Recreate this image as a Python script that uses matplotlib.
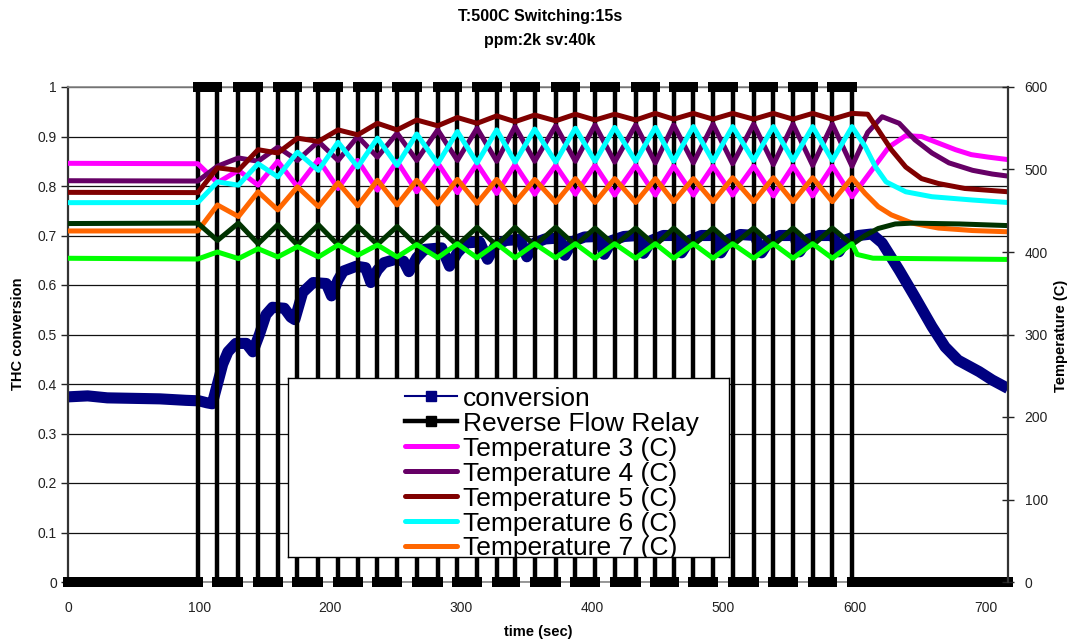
import matplotlib
matplotlib.use("Agg")
import matplotlib.pyplot as plt

plt.rcParams['font.family'] = ['Liberation Sans', 'DejaVu Sans']

W, H = 1070, 644

# ---------------- data ----------------
t_end = 717

# Reverse-flow relay: rising edges (s); relay stays on for 15 s each time
relay_rise = [99, 130, 160, 191, 221, 251, 282, 312, 341, 372, 402, 433,
              462, 492, 523, 553, 583]
relay_on_sec = 15

# THC conversion
conv_t = [0, 15, 30, 50, 70, 90, 100, 106, 110, 114, 118, 122, 128, 136, 141,
          146, 151, 156, 165, 170, 173, 179, 187, 197, 201, 206, 210, 220, 227,
          231, 236, 241, 250, 256, 260, 266, 272, 285, 291, 297, 304, 314, 320,
          326, 334, 345, 350, 356, 364, 375, 379, 385, 394, 405, 409, 415, 424,
          435, 439, 445, 454, 464, 468, 474, 483, 494, 498, 504, 513, 524, 529,
          535, 543, 554, 558, 564, 573, 584, 588, 594, 603, 613, 621, 634, 646,
          659, 669, 679, 695, 705, 717]
conv = [0.374, 0.376, 0.372, 0.371, 0.370, 0.367, 0.366, 0.362, 0.360, 0.400,
        0.440, 0.465, 0.482, 0.482, 0.465, 0.500, 0.540, 0.555, 0.553, 0.535,
        0.530, 0.585, 0.605, 0.603, 0.578, 0.610, 0.628, 0.638, 0.635, 0.605,
        0.630, 0.645, 0.652, 0.648, 0.627, 0.655, 0.672, 0.675, 0.638, 0.665,
        0.685, 0.687, 0.652, 0.680, 0.690, 0.692, 0.657, 0.685, 0.693, 0.695,
        0.660, 0.688, 0.697, 0.698, 0.662, 0.690, 0.698, 0.700, 0.664, 0.690,
        0.700, 0.700, 0.665, 0.690, 0.700, 0.700, 0.665, 0.692, 0.702, 0.700,
        0.665, 0.690, 0.700, 0.700, 0.667, 0.692, 0.700, 0.700, 0.667, 0.692,
        0.700, 0.703, 0.685, 0.630, 0.576, 0.516, 0.475, 0.448, 0.425, 0.408,
        0.391]

# Temperatures (C): value before switching, values at every switching instant,
# then the relaxation after switching stops
t_switch = [99, 114, 130, 145, 160, 175, 191, 206, 221, 236, 251, 266, 282,
            297, 312, 327, 341, 356, 372, 387, 402, 417, 433, 448, 462, 477,
            492, 507, 523, 538, 553, 568, 583, 598]

temp3_start = 507.5
temp3_switch = [507, 484, 499, 481, 510, 479, 512, 477, 511, 475, 510, 473,
                508, 472, 507, 471, 506, 470, 505, 470, 505, 469, 505, 469,
                504, 469, 504, 469, 504, 468, 504, 468, 504, 467]
temp3_tail_t = [613, 626, 639, 651, 664, 677, 689, 702, 717]
temp3_tail = [499, 527, 541, 540, 532, 524, 518, 515, 512]

temp4_start = 486.4
temp4_switch = [486, 504, 514, 510, 527, 511, 534, 511, 540, 515, 544, 511,
                548, 511, 550, 510, 552, 510, 553, 510, 554, 509, 554, 508,
                554, 508, 555, 507, 555, 506, 555, 505, 555, 504]
temp4_tail_t = [610, 621, 634, 646, 659, 672, 690, 705, 717]
temp4_tail = [545, 564, 556, 536, 520, 508, 499, 494.5, 492]

temp5_start = 472.3
temp5_switch = [472, 502, 499, 524, 520, 538, 534, 548, 542, 556, 548, 560,
                553, 563, 556, 565, 558, 566, 559, 567, 560, 567, 560, 568,
                561, 568, 561, 568, 561, 568, 561, 568, 561, 568]
temp5_tail_t = [610, 618, 628, 639, 651, 664, 684, 717]
temp5_tail = [567, 548, 524, 503, 489, 483, 477, 473]

temp6_start = 459.8
temp6_switch = [460, 485, 481, 507, 491, 521, 499, 533, 503, 538, 505, 543,
                507, 546, 508, 548, 509, 549, 509, 550, 510, 551, 510, 551,
                510, 552, 510, 552, 511, 552, 511, 552, 511, 552]
temp6_tail_t = [608, 616, 624, 639, 659, 690, 717]
temp6_tail = [528, 503, 485, 473, 467, 463, 460]

temp7_start = 425.5
temp7_switch = [425.5, 457, 443, 473, 451, 479, 455, 484, 456, 487, 457, 487,
                458, 488, 459, 488, 460, 488, 460, 489, 460, 489, 460, 489,
                461, 489, 461, 490, 461, 490, 461, 490, 461, 490]
temp7_tail_t = [608, 618, 628, 644, 664, 690, 717]
temp7_tail = [471, 455, 445, 435, 429, 426, 424.5]

temp8_start = 434.5
temp8_switch = [435, 414, 435, 410, 433, 408.5, 433, 408.5, 431.5, 409, 431,
                408, 430, 408, 430, 408, 430, 408, 430, 408, 429, 408, 429,
                408, 429, 408, 429, 408, 429, 408, 429, 408, 429, 409]
temp8_tail_t = [608, 618, 631, 644, 680, 717]
temp8_tail = [420, 428.5, 434, 435, 434, 432]

temp9_start = 392.4
temp9_switch = [391.5, 400, 392, 404, 394, 406.5, 394, 408.5, 396, 408.5, 394,
                409, 393, 410, 393, 410, 393, 410, 393, 410, 392.5, 410, 392.5,
                410, 392.5, 410, 392.5, 410, 392.5, 410, 392.5, 410, 392.5, 410]
temp9_tail_t = [602, 614, 717]
temp9_tail = [397, 392.5, 391]

legend_names = ['conversion', 'Reverse Flow Relay', 'Temperature 3 (C)',
                'Temperature 4 (C)', 'Temperature 5 (C)', 'Temperature 6 (C)',
                'Temperature 7 (C)']

x_ticks = [0, 100, 200, 300, 400, 500, 600, 700]
y_ticks = [0, 0.1, 0.2, 0.3, 0.4, 0.5, 0.6, 0.7, 0.8, 0.9, 1]
y_ticklabels = ['0', '0.1', '0.2', '0.3', '0.4', '0.5', '0.6', '0.7', '0.8',
                '0.9', '1']
y2_ticks = [0, 100, 200, 300, 400, 500, 600]

# ---------------- styles ----------------
NAVY = '#000080'
temp_styles = [
    ('#FF00FF', temp3_start, temp3_switch, temp3_tail_t, temp3_tail),
    ('#660066', temp4_start, temp4_switch, temp4_tail_t, temp4_tail),
    ('#800000', temp5_start, temp5_switch, temp5_tail_t, temp5_tail),
    ('#00FFFF', temp6_start, temp6_switch, temp6_tail_t, temp6_tail),
    ('#FF6600', temp7_start, temp7_switch, temp7_tail_t, temp7_tail),
    ('#003300', temp8_start, temp8_switch, temp8_tail_t, temp8_tail),
    ('#00FF00', temp9_start, temp9_switch, temp9_tail_t, temp9_tail),
]

fig = plt.figure(figsize=(W / 100, H / 100), dpi=100)
ax = fig.add_axes([68 / W, 1 - 582 / H, 940 / W, 495 / H])
ax.set_xlim(0, t_end)
ax.set_ylim(0, 1)

# horizontal grid
ax.set_axisbelow(True)
ax.yaxis.grid(True, color='#111111', lw=0.9)

# conversion
ax.plot(conv_t, conv, color=NAVY, lw=8, solid_joinstyle='round',
        solid_capstyle='butt', zorder=2)

# relay: step trace plus the heavy marker runs at 0 and 1
rt, rv = [0], [0]
for r in relay_rise:
    rt += [r, r, r + relay_on_sec, r + relay_on_sec]
    rv += [0, 1, 1, 0]
rt.append(t_end)
rv.append(0)
ax.plot(rt, rv, color='black', lw=3.2, clip_on=False, zorder=3)

lows = [(0, relay_rise[0])]
for a, b in zip(relay_rise[:-1], relay_rise[1:]):
    lows.append((a + relay_on_sec, b))
lows.append((relay_rise[-1] + relay_on_sec, t_end))
for a, b in lows:
    ax.plot([a, b], [0, 0], color='black', lw=7.2, solid_capstyle='projecting',
            clip_on=False, zorder=3)
for r in relay_rise:
    ax.plot([r, r + relay_on_sec], [1, 1], color='black', lw=7.2,
            solid_capstyle='projecting', clip_on=False, zorder=3)

# temperatures on the secondary axis
ax2 = ax.twinx()
ax2.set_ylim(0, 600)
for color, start, sw, tail_t, tail in temp_styles:
    tt = [0] + t_switch + tail_t
    vv = [start] + sw + tail
    ax2.plot(tt, vv, color=color, lw=3.6, solid_joinstyle='round')

# axes cosmetics
ax.set_xticks(x_ticks)
ax.set_yticks(y_ticks)
ax.set_yticklabels(y_ticklabels)
ax2.set_yticks(y2_ticks)
ax.tick_params(axis='y', direction='out', length=5, width=1, labelsize=10,
               pad=3, colors='#222222')
ax.tick_params(axis='x', length=0, labelsize=10, pad=14, colors='#222222')
ax2.tick_params(axis='y', direction='inout', length=8, width=1, labelsize=10,
                pad=8, colors='#222222')

for s in ('top', 'bottom'):
    ax.spines[s].set_color('#888888')
    ax.spines[s].set_linewidth(1.2)
ax.spines['left'].set_color('#333333')
ax.spines['left'].set_linewidth(1.6)
ax.spines['right'].set_visible(False)
for s in ('left', 'top', 'bottom'):
    ax2.spines[s].set_visible(False)
ax2.spines['right'].set_color('#333333')
ax2.spines['right'].set_linewidth(1.6)

# titles and axis labels
fig.text(540 / W, 1 - 17 / H, 'T:500C Switching:15s', ha='center',
         va='center', fontsize=11.5, fontweight='bold')
fig.text(540 / W, 1 - 41 / H, 'ppm:2k sv:40k', ha='center', va='center',
         fontsize=11.5, fontweight='bold')
fig.text(18 / W, 1 - 334 / H, 'THC conversion', rotation=90, ha='center',
         va='center', fontsize=10.5, fontweight='bold')
fig.text(1061 / W, 1 - 336 / H, 'Temperature (C)', rotation=90, ha='center',
         va='center', fontsize=10.5, fontweight='bold')
fig.text(538 / W, 1 - 632 / H, 'time (sec)', ha='center', va='center',
         fontsize=10.5, fontweight='bold')

# legend box (pixel coordinates inside)
lx0, lx1, ly0, ly1 = 288, 729, 378, 557
lax = fig.add_axes([lx0 / W, 1 - ly1 / H, (lx1 - lx0) / W, (ly1 - ly0) / H])
lax.set_xlim(lx0, lx1)
lax.set_ylim(ly1, ly0)
lax.set_xticks([])
lax.set_yticks([])
lax.set_facecolor('white')
for s in lax.spines.values():
    s.set_color('black')
    s.set_linewidth(1.0)

row0, row_step = 396, 25
hx0, hx1, tx = 405, 457, 463
legend_colors = [NAVY, 'black'] + [st[0] for st in temp_styles[:5]]
for i, (name, color) in enumerate(zip(legend_names, legend_colors)):
    y = row0 + i * row_step
    if i == 0:
        lax.plot([hx0, (hx0 + hx1) / 2, hx1], [y, y, y], color=color, lw=1.5,
                 marker='s', markersize=7.5, markevery=[1])
    elif i == 1:
        lax.plot([hx0, (hx0 + hx1) / 2, hx1], [y, y, y], color=color, lw=3.2,
                 marker='s', markersize=7.5, markevery=[1])
    else:
        lax.plot([hx0, hx1], [y, y], color=color, lw=3.6,
                 solid_capstyle='round')
    lax.text(tx, y + 9.5, name, fontsize=19, ha='left', va='baseline',
             clip_on=True)

fig.savefig('out.png', dpi=100)
